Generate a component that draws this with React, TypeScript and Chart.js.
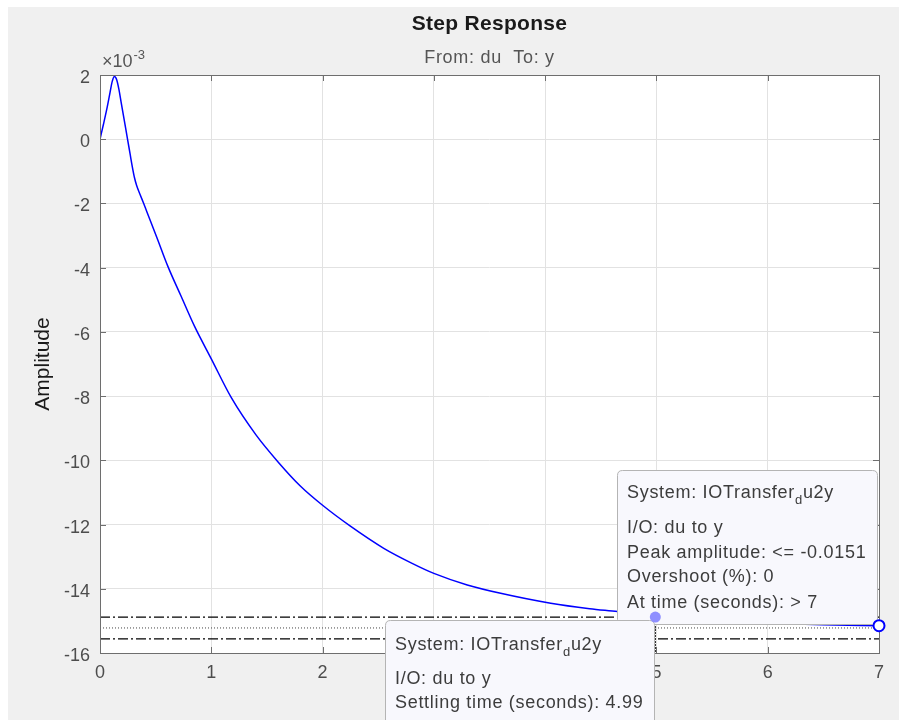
import React, { useEffect, useRef } from "react";
import { Chart, registerables } from "chart.js";

Chart.register(...registerables);

// ---- data (amplitude in units of 1e-3) ----
const timeSec = [
  0, 0.03, 0.06, 0.09, 0.11, 0.13, 0.15, 0.17, 0.19, 0.21, 0.23, 0.25, 0.27, 0.29,
  0.31, 0.33, 0.36, 0.39, 0.42, 0.51, 0.61, 0.73, 0.85, 1.0, 1.18, 1.4, 1.6, 1.8, 2.0,
  2.25, 2.55, 2.8, 3.0, 3.3, 3.6, 4.05, 4.4, 4.65, 5.0, 5.5, 6.0, 6.5, 7.0,
];
const amplitude = [
  0, 0.45, 0.92, 1.45, 1.8, 1.95, 1.85, 1.55, 1.15, 0.75, 0.35, -0.05, -0.45, -0.85,
  -1.2, -1.45, -1.72, -1.98, -2.25, -3.05, -3.96, -4.9, -5.83, -6.84, -8.05, -9.2, -10.05, -10.8, -11.4,
  -12.05, -12.74, -13.2, -13.52, -13.88, -14.14, -14.45, -14.62, -14.71, -14.86, -14.99, -15.07, -15.12, -15.15,
];
const xTickValues = [0, 1, 2, 3, 4, 5, 6, 7];
const yTickValues = [-16, -14, -12, -10, -8, -6, -4, -2, 0, 2];
const settleUpper = -14.88;
const settleLower = -15.56;
const finalValue = -15.22;
const settlingTime = 4.99;
const peakTime = 7;
const peakAmplitude = -15.15;

const titleText = "Step Response";
const subtitleText = "From: du  To: y";
const yAxisLabel = "Amplitude";
const exponentBase = "\u00d710";
const exponentPower = "-3";
const peakTipLines = [
  "System: IOTransfer_du2y",
  "I/O: du to y",
  "Peak amplitude: <= -0.0151",
  "Overshoot (%): 0",
  "At time (seconds): > 7",
];
const settleTipLines = [
  "System: IOTransfer_du2y",
  "I/O: du to y",
  "Settling time (seconds): 4.99",
];

const FONT = "'Liberation Sans', Arial, Helvetica, sans-serif";

function drawRich(ctx: any, text: string, x: number, y: number, size: number, spacing: number) {
  const parts = text.split("_");
  let cx = x;
  ctx.letterSpacing = `${spacing}px`;
  parts.forEach((p, i) => {
    let rest = p;
    if (i > 0 && p.length > 0) {
      const sub = p[0];
      rest = p.slice(1);
      ctx.font = `${Math.round(size * 0.72)}px ${FONT}`;
      ctx.fillText(sub, cx, y + size * 0.42);
      cx += ctx.measureText(sub).width;
    }
    ctx.font = `${size}px ${FONT}`;
    ctx.fillText(rest, cx, y);
    cx += ctx.measureText(rest).width;
  });
  ctx.letterSpacing = "0px";
}

function roundRect(ctx: CanvasRenderingContext2D, x: number, y: number, w: number, h: number, r: number) {
  ctx.beginPath();
  ctx.moveTo(x + r, y);
  ctx.lineTo(x + w - r, y);
  ctx.quadraticCurveTo(x + w, y, x + w, y + r);
  ctx.lineTo(x + w, y + h - r);
  ctx.quadraticCurveTo(x + w, y + h, x + w - r, y + h);
  ctx.lineTo(x + r, y + h);
  ctx.quadraticCurveTo(x, y + h, x, y + h - r);
  ctx.lineTo(x, y + r);
  ctx.quadraticCurveTo(x, y, x + r, y);
  ctx.closePath();
}

const decorPlugin = {
  id: "decor",
  beforeDraw(chart: any) {
    const { ctx, chartArea: a } = chart;
    ctx.save();
    ctx.fillStyle = "#ffffff";
    ctx.fillRect(a.left, a.top, a.right - a.left, a.bottom - a.top);
    ctx.restore();
  },
  afterDraw(chart: any) {
    const { ctx, chartArea: a, scales } = chart;
    const xs = scales.x;
    const ys = scales.y;
    ctx.save();
    // axes box
    ctx.strokeStyle = "#6e6e6e";
    ctx.lineWidth = 1;
    ctx.strokeRect(Math.round(a.left) + 0.5, Math.round(a.top) + 0.5, Math.round(a.right - a.left), Math.round(a.bottom - a.top));
    // inward ticks
    ctx.beginPath();
    const tl = 6;
    xTickValues.forEach((v) => {
      const px = Math.round(xs.getPixelForValue(v)) + 0.5;
      ctx.moveTo(px, a.bottom);
      ctx.lineTo(px, a.bottom - tl);
      ctx.moveTo(px, a.top);
      ctx.lineTo(px, a.top + tl);
    });
    yTickValues.forEach((v) => {
      const py = Math.round(ys.getPixelForValue(v)) + 0.5;
      ctx.moveTo(a.left, py);
      ctx.lineTo(a.left + tl, py);
      ctx.moveTo(a.right, py);
      ctx.lineTo(a.right - tl, py);
    });
    ctx.stroke();

    // titles
    const cx = (a.left + a.right) / 2;
    ctx.textAlign = "center";
    ctx.textBaseline = "middle";
    ctx.fillStyle = "#1a1a1a";
    ctx.font = `bold 21px ${FONT}`;
    ctx.letterSpacing = "0.3px";
    ctx.fillText(titleText, cx, 17);
    ctx.fillStyle = "#555555";
    ctx.font = `18px ${FONT}`;
    ctx.letterSpacing = "0.7px";
    ctx.fillText(subtitleText, cx, 51);
    ctx.letterSpacing = "0px";

    // exponent
    ctx.textAlign = "left";
    ctx.fillStyle = "#555555";
    ctx.font = `18px ${FONT}`;
    ctx.fillText(exponentBase, a.left + 2, 55);
    const bw = ctx.measureText(exponentBase).width;
    ctx.font = `13px ${FONT}`;
    ctx.fillText(exponentPower, a.left + 2 + bw + 1, 48);

    // y label
    ctx.save();
    ctx.translate(35, (a.top + a.bottom) / 2);
    ctx.rotate(-Math.PI / 2);
    ctx.textAlign = "center";
    ctx.fillStyle = "#1a1a1a";
    ctx.font = `21px ${FONT}`;
    ctx.fillText(yAxisLabel, 0, 0);
    ctx.restore();

    const peakX = xs.getPixelForValue(peakTime);
    const peakY = ys.getPixelForValue(peakAmplitude);
    const setX = xs.getPixelForValue(settlingTime);
    const setY = ys.getPixelForValue(settleUpper);

    // data tip boxes
    const tipSize = 18;
    const tipSpacing = 0.7;
    const drawBox = (x: number, y: number, w: number, h: number, lines: string[], offs: number[]) => {
      roundRect(ctx, x + 0.5, y + 0.5, w, h, 5);
      ctx.fillStyle = "#f8f8fd";
      ctx.fill();
      ctx.strokeStyle = "#b4b4b4";
      ctx.lineWidth = 1;
      ctx.stroke();
      ctx.fillStyle = "#3c3c3c";
      ctx.textAlign = "left";
      ctx.textBaseline = "middle";
      lines.forEach((ln, i) => drawRich(ctx, ln, x + 10, y + offs[i], tipSize, tipSpacing));
    };
    drawBox(Math.round(peakX - 262), Math.round(peakY - 156), 260, 154, peakTipLines, [23, 58, 83, 107, 133]);
    drawBox(Math.round(setX - 270), Math.round(setY + 3), 269, 120, settleTipLines, [25, 59, 83]);

    // markers
    ctx.beginPath();
    ctx.arc(setX, setY, 5.5, 0, Math.PI * 2);
    ctx.fillStyle = "#8f8fff";
    ctx.fill();
    ctx.beginPath();
    ctx.arc(peakX, peakY, 5.5, 0, Math.PI * 2);
    ctx.fillStyle = "#ffffff";
    ctx.fill();
    ctx.strokeStyle = "#0000ff";
    ctx.lineWidth = 2;
    ctx.stroke();
    ctx.restore();
  },
};

export default function App() {
  const ref = useRef<HTMLCanvasElement | null>(null);
  useEffect(() => {
    if (!ref.current) return;
    const lineDs = (pts: { x: number; y: number }[], color: string, dash: number[], width = 1) => ({
      data: pts,
      borderColor: color,
      borderWidth: width,
      borderDash: dash,
      pointRadius: 0,
      fill: false,
    });
    const chart = new Chart(ref.current, {
      type: "line",
      data: {
        datasets: [
          lineDs([{ x: 0, y: settleUpper }, { x: 7, y: settleUpper }], "#000000", [10, 3, 2, 3], 1.2),
          lineDs([{ x: 0, y: settleLower }, { x: 7, y: settleLower }], "#000000", [10, 3, 2, 3], 1.2),
          lineDs([{ x: 0, y: finalValue }, { x: 7, y: finalValue }], "#444444", [1, 2]),
          lineDs([{ x: settlingTime, y: settleUpper }, { x: settlingTime, y: -16 }], "#000000", [2, 1]),
          {
            data: timeSec.map((t, i) => ({ x: t, y: amplitude[i] })),
            borderColor: "#0000ff",
            borderWidth: 1.5,
            pointRadius: 0,
            fill: false,
            cubicInterpolationMode: "monotone",
          },
        ],
      },
      options: {
        animation: false,
        responsive: false,
        maintainAspectRatio: false,
        events: [],
        layout: { padding: { top: 68, right: 20, left: 0, bottom: 0 } },
        plugins: { legend: { display: false }, tooltip: { enabled: false }, title: { display: false } },
        scales: {
          x: {
            type: "linear",
            min: 0,
            max: 7,
            ticks: { stepSize: 1, color: "#4d4d4d", font: { family: FONT, size: 18 }, padding: 9, maxRotation: 0 },
            grid: { color: "#e2e2e2", drawTicks: false },
            border: { display: false },
            afterFit: (s: any) => { s.height = 67; },
          },
          y: {
            type: "linear",
            min: -16,
            max: 2,
            ticks: { stepSize: 2, color: "#4d4d4d", font: { family: FONT, size: 18 }, padding: 10, labelOffset: 3 },
            grid: { color: "#e2e2e2", drawTicks: false },
            border: { display: false },
            afterFit: (s: any) => { s.width = 92; },
          },
        },
      } as any,
      plugins: [decorPlugin as any],
    });
    return () => chart.destroy();
  }, []);
  return (
    <div style={{ position: "absolute", left: 8, top: 7, width: 891, height: 713, background: "#f0f0f0" }}>
      <canvas ref={ref} width={891} height={713} style={{ display: "block" }} />
    </div>
  );
}
